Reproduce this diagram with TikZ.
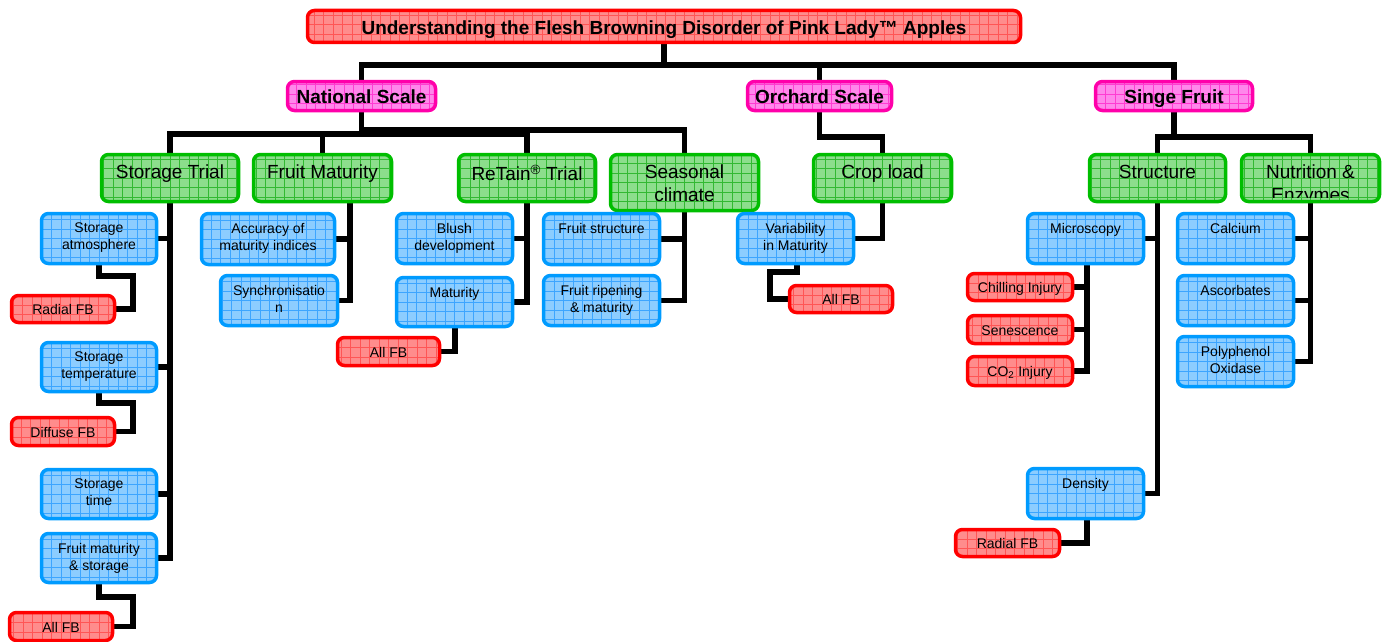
\documentclass[tikz,border=0pt]{standalone}
\usepackage{fontspec}
\setmainfont{Liberation Sans}
\usetikzlibrary{calc}
\pgfdeclarelayer{bg}
\pgfsetlayers{bg,main}
\definecolor{redB}{RGB}{255,0,0}
\definecolor{redF}{RGB}{255,140,140}
\definecolor{redG}{RGB}{255,85,85}
\definecolor{grnB}{RGB}{0,190,0}
\definecolor{grnF}{RGB}{140,222,140}
\definecolor{grnG}{RGB}{50,185,50}
\definecolor{bluB}{RGB}{0,155,255}
\definecolor{bluF}{RGB}{140,205,255}
\definecolor{bluG}{RGB}{60,165,255}
\definecolor{magB}{RGB}{255,0,170}
\definecolor{magF}{RGB}{255,135,235}
\definecolor{magG}{RGB}{255,60,210}
\tikzset{
  box/.style={draw, rounded corners=7pt, line width=3.5pt, inner sep=0pt,
    path picture={\draw[#1, line width=0.7pt, step=9.5pt]
      (path picture bounding box.south west) grid (path picture bounding box.north east);}},
  redbox/.style={box=redG, draw=redB, fill=redF, font=\fontsize{14}{17}\selectfont, text height=14pt, text depth=3pt},
  grnbox/.style={box=grnG, draw=grnB, fill=grnF},
  blubox/.style={box=bluG, draw=bluB, fill=bluF},
  magbox/.style={box=magG, draw=magB, fill=magF, font=\bfseries\fontsize{19}{22}\selectfont, text height=19.5pt, text depth=4pt},
  titlebox/.style={box=redG, draw=redB, fill=redF, font=\bfseries\fontsize{19}{22}\selectfont, text height=19.5pt, text depth=4pt},
  btext/.style={anchor=north, align=center, inner sep=0pt, font=\fontsize{14}{17}\selectfont},
  gtext/.style={anchor=north, align=center, inner sep=0pt, font=\fontsize{19}{22.5}\selectfont},
  conn/.style={line width=5.5pt, black, line join=miter},
}
\newcommand\bx[7]{\node[#1, minimum width={#5-#3-3}, minimum height={#6-#4-3}] (#2) at ({(#3+#5)/2},{(#4+#6)/2}) {#7};}
\newcommand\bt[2]{\node[btext] (#1-t) at ([yshift=-11pt]#1.north) {#2};}
\newcommand\gt[2]{\node[gtext] (#1-t) at ([yshift=-12pt]#1.north) {#2};}
\begin{document}
\begin{tikzpicture}[x=1pt,y=-1pt]
\useasboundingbox (0,0) rectangle (1394,642);
% level 0/1
\bx{titlebox}{title}{306}{9}{1022}{44}{Understanding the Flesh Browning Disorder of Pink Lady\texttrademark\ Apples}
\bx{magbox}{nat}{286}{80}{437}{112}{National Scale}
\bx{magbox}{orch}{746}{80}{893}{112}{Orchard Scale}
\bx{magbox}{sf}{1094}{80}{1254}{112}{Singe Fruit}
% level 2
\bx{grnbox}{st}{100}{153}{240}{203}{}
\bx{grnbox}{fm}{252}{153}{393}{203}{}
\bx{grnbox}{rt}{457}{153}{597}{203}{}
\bx{grnbox}{sc}{609}{153}{760}{212}{}
\bx{grnbox}{cl}{812}{153}{953}{203}{}
\bx{grnbox}{str}{1088}{153}{1227}{203}{}
\bx{grnbox}{nut}{1240}{153}{1381}{203}{}
\gt{st}{Storage Trial}
\gt{fm}{Fruit Maturity}
\gt{rt}{ReTain\textsuperscript{\textregistered} Trial}
\gt{sc}{Seasonal\\climate}
\gt{cl}{Crop load}
\gt{str}{Structure}
\begin{scope}
\clip ([shift={(3pt,-3pt)}]nut.north west) rectangle ([shift={(-3pt,6pt)}]nut.south east);
\gt{nut}{Nutrition \&\\Enzymes}
\end{scope}
% level 3 blue
\bx{blubox}{sa}{40}{212}{158}{265}{}
\bx{blubox}{stemp}{40}{341}{158}{393}{}
\bx{blubox}{stime}{40}{468}{158}{520}{}
\bx{blubox}{fms}{40}{532}{158}{584}{}
\bx{blubox}{acc}{200}{212}{336}{266}{}
\bx{blubox}{syn}{219}{274}{339}{327}{}
\bx{blubox}{blush}{395}{212}{514}{265}{}
\bx{blubox}{mat}{395}{276}{514}{328}{}
\bx{blubox}{fs}{542}{212}{661}{266}{}
\bx{blubox}{frip}{542}{274}{661}{327}{}
\bx{blubox}{var}{736}{212}{855}{265}{}
\bx{blubox}{mic}{1026}{212}{1145}{265}{}
\bx{blubox}{den}{1026}{467}{1145}{520}{}
\bx{blubox}{cal}{1176}{212}{1295}{265}{}
\bx{blubox}{asc}{1176}{274}{1295}{327}{}
\bx{blubox}{ppo}{1176}{335}{1295}{388}{}
\bt{sa}{Storage\\atmosphere}
\bt{stemp}{Storage\\temperature}
\bt{stime}{Storage\\time}
\bt{fms}{Fruit maturity\\\& storage}
\bt{acc}{Accuracy of\\maturity indices}
\bt{syn}{Synchronisatio\\n}
\bt{blush}{Blush\\development}
\bt{mat}{Maturity}
\bt{fs}{Fruit structure}
\bt{frip}{Fruit ripening\\\& maturity}
\bt{var}{Variability\\in Maturity}
\bt{mic}{Microscopy}
\bt{den}{Density}
\bt{cal}{Calcium}
\bt{asc}{Ascorbates}
\bt{ppo}{Polyphenol\\Oxidase}
% red
\bx{redbox}{rfb1}{10}{294}{116}{324}{Radial FB}
\bx{redbox}{dfb}{10}{416}{116}{447}{Diffuse FB}
\bx{redbox}{afb1}{8}{611}{114}{642}{All FB}
\bx{redbox}{afb2}{336}{336}{441}{367}{All FB}
\bx{redbox}{afb3}{788}{284}{894}{314}{All FB}
\bx{redbox}{chill}{966}{272}{1074}{302}{Chilling Injury}
\bx{redbox}{sen}{966}{314}{1074}{345}{Senescence}
\bx{redbox}{co2}{966}{355}{1074}{387}{CO\textsubscript{2} Injury}
\bx{redbox}{rfb2}{954}{528}{1061}{558}{Radial FB}
% helper coordinates
\coordinate (h1) at (0,65);
\coordinate (h2) at (0,130);
\coordinate (h2b) at (0,134);
\coordinate (h3) at (0,137);
\coordinate (x350) at (350,0);
\coordinate (x455) at (455,0);
\coordinate (x797) at (797,0);
\coordinate (x1087) at (1087,0);
\coordinate (c1) at (133,276);
\coordinate (c2) at (133,403);
\coordinate (c3) at (133,597);
\coordinate (c4) at (770,272);
\begin{pgfonlayer}{bg}
\draw[conn] (title.south) -- (title.south |- h1);
\draw[conn] (nat.north) |- (sf.north |- h1) -- (sf.north);
\draw[conn] (orch.north) -- (orch.north |- h1);
\draw[conn] (nat.south) -- (nat.south |- h2b);
\draw[conn] (nat.south |- h2) -- (sc.north |- h2) -- (sc.north);
\draw[conn] (st.north) |- (rt.north |- h2b) -- (rt.north);
\draw[conn] (fm.north) -- (fm.north |- h2b);
\draw[conn] (orch.south) |- (cl.north |- h3) -- (cl.north);
\draw[conn] (sf.south) -- (sf.south |- h3);
\draw[conn] (str.north) |- (nut.north |- h3) -- (nut.north);
% storage trial
\draw[conn] (st.south) |- (fms.east);
\draw[conn] (sa.east) -- (sa.east -| st.south);
\draw[conn] (stemp.east) -- (stemp.east -| st.south);
\draw[conn] (stime.east) -- (stime.east -| st.south);
\draw[conn] (sa.south) |- (c1) |- (rfb1.east);
\draw[conn] (stemp.south) |- (c2) |- (dfb.east);
\draw[conn] (fms.south) |- (c3) |- (afb1.east);
% fruit maturity
\draw[conn] (fm.south -| x350) |- (syn.east);
\draw[conn] (acc.east) -- (acc.east -| x350);
% retain
\draw[conn] (rt.south) |- (mat.east);
\draw[conn] (blush.east) -- (blush.east -| rt.south);
\draw[conn] (mat.south -| x455) |- (afb2.east);
% seasonal
\draw[conn] (sc.south) |- (frip.east);
\draw[conn] (fs.east) -- (fs.east -| sc.south);
% crop load
\draw[conn] (cl.south) |- (var.east);
\draw[conn] (var.south -| x797) |- (c4) |- (afb3.west);
% structure
\draw[conn] (str.south) |- (den.east);
\draw[conn] (mic.east) -- (mic.east -| str.south);
\draw[conn] (mic.south -| x1087) |- (co2.east);
\draw[conn] (chill.east) -- (chill.east -| x1087);
\draw[conn] (sen.east) -- (sen.east -| x1087);
\draw[conn] (den.south -| x1087) |- (rfb2.east);
% nutrition
\draw[conn] (nut.south) |- (ppo.east);
\draw[conn] (cal.east) -- (cal.east -| nut.south);
\draw[conn] (asc.east) -- (asc.east -| nut.south);
\end{pgfonlayer}
\end{tikzpicture}
\end{document}
